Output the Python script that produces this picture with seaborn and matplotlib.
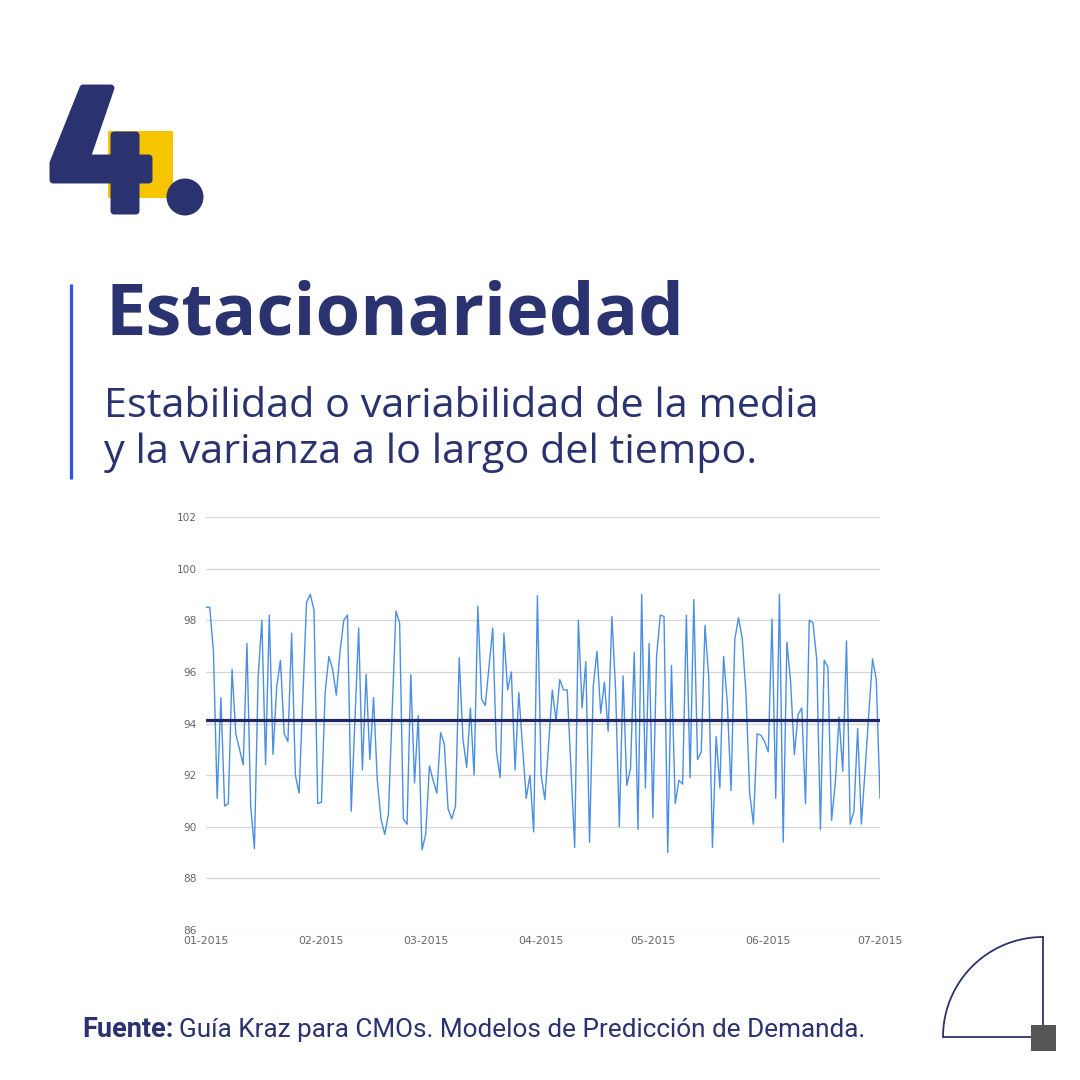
import numpy as np
import pandas as pd
import matplotlib
matplotlib.use("Agg")
import matplotlib.pyplot as plt
import matplotlib.dates as mdates
from matplotlib.patches import Polygon, FancyBboxPatch, Circle, Rectangle
import seaborn as sns

# Daily values (Jan 1 - Jul 1 2015)
jan_values = [98.5, 98.5, 96.8, 91.1, 95.0, 90.8, 90.9, 96.1, 93.6, 93.0, 92.4,
              97.1, 90.8, 89.15, 95.8, 98.0, 92.4, 98.2, 92.8, 95.45, 96.45, 93.6,
              93.3, 97.5, 92.0, 91.3, 95.0, 98.7, 99.0, 98.4, 90.9]
feb_values = [90.95, 95.2, 96.6, 96.1, 95.1, 96.8, 98.0, 98.2, 90.6, 94.2, 97.7,
              92.2, 95.9, 92.6, 95.0, 91.8, 90.3, 89.7, 90.5, 94.5, 98.35, 97.9,
              90.3, 90.1, 95.9, 91.7, 94.3, 89.1]
mar_values = [89.7, 92.35, 91.8, 91.3, 93.65, 93.2, 90.7, 90.3, 90.8, 96.55, 93.4,
              92.3, 94.6, 92.0, 98.55, 94.95, 94.7, 96.2, 97.7, 92.9, 91.9, 97.5,
              95.3, 96.0, 92.2, 95.2, 93.1, 91.1, 92.0, 89.8, 98.95]
apr_values = [92.0, 91.05, 93.2, 95.3, 94.1, 95.7, 95.3, 95.3, 92.3, 89.2, 98.0,
              94.6, 96.4, 89.4, 95.45, 96.8, 94.4, 95.6, 93.7, 98.15, 95.3, 90.0,
              95.85, 91.6, 92.25, 96.75, 89.9, 99.0, 91.5, 97.1]
may_values = [90.35, 96.6, 98.2, 98.15, 89.0, 96.25, 90.9, 91.8, 91.65, 98.2, 91.9,
              98.8, 92.6, 92.9, 97.8, 95.8, 89.2, 93.5, 91.5, 96.6, 94.8, 91.4,
              97.25, 98.1, 97.3, 95.2, 91.3, 90.1, 93.6, 93.55, 93.3]
jun_values = [92.9, 98.05, 91.1, 99.0, 89.4, 97.15, 95.6, 92.8, 94.35, 94.6, 90.9,
              98.0, 97.9, 96.5, 89.9, 96.45, 96.2, 90.25, 91.7, 94.25, 92.15, 97.2,
              90.1, 90.6, 93.8, 90.1, 92.2, 94.4, 96.5, 95.7]
jul_values = [91.1]

mean_level = 94.13
y_ticks = [86, 88, 90, 92, 94, 96, 98, 100, 102]
month_ticks = ["2015-01-01", "2015-02-01", "2015-03-01", "2015-04-01",
               "2015-05-01", "2015-06-01", "2015-07-01"]

values = jan_values + feb_values + mar_values + apr_values + may_values + jun_values + jul_values
dates = pd.date_range("2015-01-01", periods=len(values), freq="D")
df = pd.DataFrame({"fecha": dates, "valor": values})

navy = "#2b3270"
yellow = "#f6c500"

sns.set_theme(style="white")

fig = plt.figure(figsize=(10.8, 10.8), dpi=100)
fig.patch.set_facecolor("white")

# decoration layer in pixel coordinates
deco = fig.add_axes([0, 0, 1, 1], zorder=0)
deco.set_xlim(0, 1080)
deco.set_ylim(1080, 0)
deco.axis("off")

# "4." logo
deco.add_patch(Rectangle((108, 131), 65, 67, color=yellow, lw=0))
four = Polygon([(83, 88), (111, 88), (87, 158), (149, 158), (149, 180), (53, 180),
                (53, 163)], closed=True, facecolor=navy, edgecolor=navy,
               lw=5, joinstyle="round")
deco.add_patch(four)
deco.add_patch(FancyBboxPatch((113, 134), 24, 78, boxstyle="round,pad=2.5,rounding_size=4",
                              facecolor=navy, edgecolor="none"))
deco.add_patch(Circle((185, 197), 18.5, color=navy, lw=0))

# left accent bar
deco.plot([71, 71], [284, 479], color="#3050e6", lw=2.3, solid_capstyle="butt")

# bottom-right quarter circle
t = np.linspace(0, np.pi / 2, 60)
deco.plot(1043 - 100 * np.cos(t), 1037 - 100 * np.sin(t), color=navy, lw=1.3)
deco.plot([1043, 1043, 943], [937, 1037, 1037], color=navy, lw=1.3)
deco.add_patch(Rectangle((1031, 1025), 25, 26, color="#555555", lw=0, zorder=3))

# chart
ax = fig.add_axes([206 / 1080, 1 - 930 / 1080, 674 / 1080, 413 / 1080], zorder=1)
ax.set_facecolor("none")
sns.lineplot(data=df, x="fecha", y="valor", ax=ax, color="#4a8fe3", linewidth=1.0)
ax.axhline(mean_level, color="#1f2766", lw=2.3)
ax.set_ylim(86, 102)
ax.set_xlim(dates[0], dates[-1])
ax.set_yticks(y_ticks)
ax.set_xticks(pd.to_datetime(month_ticks))
ax.xaxis.set_major_formatter(mdates.DateFormatter("%m-%Y"))
ax.set_axisbelow(True)
ax.grid(axis="y", color="#d6d6d6", lw=0.9)
ax.grid(axis="x", visible=False)
ax.tick_params(length=0, labelcolor="#666666")
ax.tick_params(axis="y", labelsize=7.6, pad=6.5)
ax.tick_params(axis="x", labelsize=7.8, pad=4.5)
sns.despine(ax=ax, left=True, bottom=True)
ax.set_xlabel("")
ax.set_ylabel("")

# texts
fig.text(105 / 1080, 1 - 335 / 1080, "Estacionariedad", fontfamily="Open Sans",
         fontweight="bold", fontsize=52, color=navy, va="baseline")
fig.text(104 / 1080, 1 - 417 / 1080, "Estabilidad o variabilidad de la media",
         fontfamily="Open Sans", fontsize=29.8, color=navy, va="baseline")
fig.text(104 / 1080, 1 - 463 / 1080, "y la varianza a lo largo del tiempo.",
         fontfamily="Open Sans", fontsize=29.8, color=navy, va="baseline")

src_label = fig.text(82 / 1080, 1 - 1037 / 1080, "Fuente:", fontfamily="Roboto",
                     fontweight="bold", fontsize=19.5, color=navy, va="baseline")
fig.canvas.draw()
bb = src_label.get_window_extent()
fig.text((bb.x1 + 6) / 1080, 1 - 1037 / 1080,
         "Guía Kraz para CMOs. Modelos de Predicción de Demanda.",
         fontfamily="Roboto", fontsize=18.8, color=navy, va="baseline")

fig.savefig("out.png", dpi=100, facecolor="white")
